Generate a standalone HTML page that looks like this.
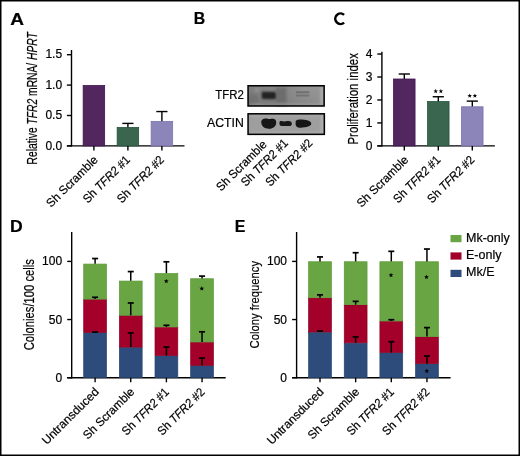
<!DOCTYPE html>
<html><head><meta charset="utf-8"><style>
html,body{margin:0;padding:0;background:#fff;}
svg{display:block;will-change:transform;}
text{font-family:"Liberation Sans", sans-serif;fill:#000;stroke:#000;stroke-width:0.2px;}
</style></head><body>
<svg width="520" height="456" viewBox="0 0 520 456">
<rect x="0.75" y="0.75" width="518.5" height="454.5" fill="#fff" stroke="#000" stroke-width="1.5"/>
<text transform="translate(10.2,24.5) scale(1.17,1)" font-size="16.3" font-weight="bold">A</text>
<text transform="translate(193.8,24.4) scale(0.97,1)" font-size="16.3" font-weight="bold">B</text>
<text transform="translate(10.1,231.5) scale(1.08,1)" font-size="16.3" font-weight="bold">D</text>
<text transform="translate(234.8,231.7) scale(0.98,1)" font-size="16.3" font-weight="bold">E</text>
<path d="M344.06,14.85 A5.25,5.25 0 1 0 344.06,22.65" fill="none" stroke="#000" stroke-width="2.6"/>
<line x1="71.50" y1="146.60" x2="71.50" y2="50.00" stroke="#000" stroke-width="1.4"/>
<line x1="66.90" y1="145.90" x2="184.50" y2="145.90" stroke="#000" stroke-width="1.4"/>
<line x1="66.90" y1="145.90" x2="71.50" y2="145.90" stroke="#000" stroke-width="1.4"/>
<text x="62.10" y="149.50" font-size="12" text-anchor="end" font-weight="normal" >0.0</text>
<line x1="66.90" y1="115.50" x2="71.50" y2="115.50" stroke="#000" stroke-width="1.4"/>
<text x="62.10" y="119.10" font-size="12" text-anchor="end" font-weight="normal" >0.5</text>
<line x1="66.90" y1="85.10" x2="71.50" y2="85.10" stroke="#000" stroke-width="1.4"/>
<text x="62.10" y="88.70" font-size="12" text-anchor="end" font-weight="normal" >1.0</text>
<line x1="66.90" y1="54.70" x2="71.50" y2="54.70" stroke="#000" stroke-width="1.4"/>
<text x="62.10" y="58.30" font-size="12" text-anchor="end" font-weight="normal" >1.5</text>
<rect x="83.15" y="85.50" width="21.50" height="60.40" fill="#52265f" stroke="#3e1450" stroke-width="0.8"/>
<line x1="93.90" y1="145.90" x2="93.90" y2="150.40" stroke="#000" stroke-width="1.4"/>
<line x1="127.90" y1="123.40" x2="127.90" y2="128.05" stroke="#000" stroke-width="1.4"/>
<line x1="122.30" y1="123.40" x2="133.50" y2="123.40" stroke="#000" stroke-width="1.4"/>
<rect x="117.15" y="127.45" width="21.50" height="18.45" fill="#3a6650" stroke="#24553b" stroke-width="0.8"/>
<line x1="127.90" y1="145.90" x2="127.90" y2="150.40" stroke="#000" stroke-width="1.4"/>
<line x1="161.90" y1="111.55" x2="161.90" y2="121.97" stroke="#000" stroke-width="1.4"/>
<line x1="156.30" y1="111.55" x2="167.50" y2="111.55" stroke="#000" stroke-width="1.4"/>
<rect x="151.15" y="121.37" width="21.50" height="24.53" fill="#8b85ba" stroke="#7a72b0" stroke-width="0.8"/>
<line x1="161.90" y1="145.90" x2="161.90" y2="150.40" stroke="#000" stroke-width="1.4"/>
<text transform="translate(37.20,98.30) rotate(-90)" font-size="15" text-anchor="middle" textLength="132.4" lengthAdjust="spacingAndGlyphs" >Relative <tspan font-style="italic">TFR2</tspan> mRNA/ <tspan font-style="italic">HPRT</tspan></text>
<text transform="translate(98.70,160.50) rotate(-45)" font-size="12" text-anchor="end" textLength="67.3" lengthAdjust="spacingAndGlyphs" >Sh Scramble</text>
<text transform="translate(130.80,160.50) rotate(-45)" font-size="12" text-anchor="end" textLength="61" lengthAdjust="spacingAndGlyphs" >Sh <tspan font-style="italic">TFR2</tspan> #1</text>
<text transform="translate(164.80,160.50) rotate(-45)" font-size="12" text-anchor="end" textLength="61" lengthAdjust="spacingAndGlyphs" >Sh <tspan font-style="italic">TFR2</tspan> #2</text>
<line x1="381.90" y1="146.60" x2="381.90" y2="51.80" stroke="#000" stroke-width="1.4"/>
<line x1="377.30" y1="145.90" x2="494.90" y2="145.90" stroke="#000" stroke-width="1.4"/>
<line x1="377.30" y1="145.90" x2="381.90" y2="145.90" stroke="#000" stroke-width="1.4"/>
<text x="372.50" y="149.50" font-size="12" text-anchor="end" font-weight="normal" >0</text>
<line x1="377.30" y1="122.93" x2="381.90" y2="122.93" stroke="#000" stroke-width="1.4"/>
<text x="372.50" y="126.53" font-size="12" text-anchor="end" font-weight="normal" >1</text>
<line x1="377.30" y1="99.96" x2="381.90" y2="99.96" stroke="#000" stroke-width="1.4"/>
<text x="372.50" y="103.56" font-size="12" text-anchor="end" font-weight="normal" >2</text>
<line x1="377.30" y1="76.99" x2="381.90" y2="76.99" stroke="#000" stroke-width="1.4"/>
<text x="372.50" y="80.59" font-size="12" text-anchor="end" font-weight="normal" >3</text>
<line x1="377.30" y1="54.02" x2="381.90" y2="54.02" stroke="#000" stroke-width="1.4"/>
<text x="372.50" y="57.62" font-size="12" text-anchor="end" font-weight="normal" >4</text>
<line x1="404.30" y1="74.00" x2="404.30" y2="79.60" stroke="#000" stroke-width="1.4"/>
<line x1="398.70" y1="74.00" x2="409.90" y2="74.00" stroke="#000" stroke-width="1.4"/>
<rect x="393.55" y="79.00" width="21.50" height="66.90" fill="#52265f" stroke="#3e1450" stroke-width="0.8"/>
<line x1="404.30" y1="145.90" x2="404.30" y2="150.40" stroke="#000" stroke-width="1.4"/>
<line x1="438.30" y1="96.74" x2="438.30" y2="102.11" stroke="#000" stroke-width="1.4"/>
<line x1="432.70" y1="96.74" x2="443.90" y2="96.74" stroke="#000" stroke-width="1.4"/>
<rect x="427.55" y="101.51" width="21.50" height="44.39" fill="#3a6650" stroke="#24553b" stroke-width="0.8"/>
<line x1="438.30" y1="145.90" x2="438.30" y2="150.40" stroke="#000" stroke-width="1.4"/>
<line x1="472.30" y1="101.11" x2="472.30" y2="107.39" stroke="#000" stroke-width="1.4"/>
<line x1="466.70" y1="101.11" x2="477.90" y2="101.11" stroke="#000" stroke-width="1.4"/>
<rect x="461.55" y="106.79" width="21.50" height="39.11" fill="#8b85ba" stroke="#7a72b0" stroke-width="0.8"/>
<line x1="472.30" y1="145.90" x2="472.30" y2="150.40" stroke="#000" stroke-width="1.4"/>
<text transform="translate(357.60,98.80) rotate(-90)" font-size="15" text-anchor="middle" textLength="91.5" lengthAdjust="spacingAndGlyphs" >Proliferation index</text>
<text transform="translate(409.10,160.50) rotate(-45)" font-size="12" text-anchor="end" textLength="67.3" lengthAdjust="spacingAndGlyphs" >Sh Scramble</text>
<text transform="translate(441.20,160.50) rotate(-45)" font-size="12" text-anchor="end" textLength="61" lengthAdjust="spacingAndGlyphs" >Sh <tspan font-style="italic">TFR2</tspan> #1</text>
<text transform="translate(475.20,160.50) rotate(-45)" font-size="12" text-anchor="end" textLength="61" lengthAdjust="spacingAndGlyphs" >Sh <tspan font-style="italic">TFR2</tspan> #2</text>
<polygon points="435.70,88.80 436.29,90.38 437.98,90.46 436.66,91.51 437.11,93.14 435.70,92.21 434.29,93.14 434.74,91.51 433.42,90.46 435.11,90.38" fill="#000"/>
<polygon points="440.90,88.80 441.49,90.38 443.18,90.46 441.86,91.51 442.31,93.14 440.90,92.21 439.49,93.14 439.94,91.51 438.62,90.46 440.31,90.38" fill="#000"/>
<polygon points="469.70,93.40 470.29,94.98 471.98,95.06 470.66,96.11 471.11,97.74 469.70,96.81 468.29,97.74 468.74,96.11 467.42,95.06 469.11,94.98" fill="#000"/>
<polygon points="474.90,93.40 475.49,94.98 477.18,95.06 475.86,96.11 476.31,97.74 474.90,96.81 473.49,97.74 473.94,96.11 472.62,95.06 474.31,94.98" fill="#000"/>
<defs>
<linearGradient id="gT" x1="0" y1="0" x2="1" y2="0">
 <stop offset="0" stop-color="#7e7e7e"/><stop offset="0.3" stop-color="#858585"/><stop offset="0.5" stop-color="#888"/><stop offset="0.7" stop-color="#929292"/><stop offset="1" stop-color="#989898"/>
</linearGradient>
<linearGradient id="gTv" x1="0" y1="0" x2="0" y2="1">
 <stop offset="0" stop-color="#000" stop-opacity="0"/><stop offset="0.6" stop-color="#000" stop-opacity="0.04"/><stop offset="1" stop-color="#000" stop-opacity="0.1"/>
</linearGradient>
<filter id="bl1" x="-50%" y="-50%" width="200%" height="200%"><feGaussianBlur stdDeviation="1.1"/></filter>
<filter id="bl3" x="-50%" y="-50%" width="200%" height="200%"><feGaussianBlur stdDeviation="1.0"/></filter>
<filter id="bl4" x="-50%" y="-50%" width="200%" height="200%"><feGaussianBlur stdDeviation="0.65"/></filter>
<filter id="bl2" x="-50%" y="-50%" width="200%" height="200%"><feGaussianBlur stdDeviation="0.45"/></filter>
</defs>
<rect x="248.05" y="85.75" width="76.1" height="20.25" fill="url(#gT)"/>
<rect x="248.05" y="85.75" width="76.1" height="20.25" fill="url(#gTv)"/>
<g filter="url(#bl1)">
<rect x="275.5" y="87" width="11" height="19" fill="#6a6a6a" opacity="0.55"/>
<rect x="320.5" y="87" width="2.6" height="18.5" fill="#b4b4b4" opacity="0.8"/>
<rect x="250" y="103.6" width="72" height="1.6" fill="#b0b0b0" opacity="0.6"/>
</g>
<g filter="url(#bl3)">
<path d="M261.7,91.8 L273.6,91.8 C275.4,91.8 276.0,92.9 276.0,94.5 L275.9,97.7 C275.9,99.1 275.0,99.4 273.5,99.3 L263.4,98.9 C262.1,98.8 261.7,97.9 261.7,96.5 Z" fill="#222"/>
<rect x="276.5" y="89" width="9" height="13" fill="#5e5e5e" opacity="0.4"/>
<ellipse cx="253" cy="99" rx="5" ry="5" fill="#606060" opacity="0.35"/>
<ellipse cx="257" cy="90" rx="3" ry="2.5" fill="#a0a0a0" opacity="0.4"/>
<ellipse cx="270" cy="103" rx="8" ry="2" fill="#6a6a6a" opacity="0.25"/>
</g>
<g filter="url(#bl4)">
<rect x="295.8" y="91.2" width="13.7" height="2.0" rx="0.8" fill="#555" opacity="0.55"/>
<rect x="295.8" y="94.4" width="13.7" height="2.0" rx="0.8" fill="#5a5a5a" opacity="0.5"/>
</g>
<rect x="248.05" y="85.75" width="76.1" height="20.25" fill="none" stroke="#000" stroke-width="1.5"/>
<rect x="248.05" y="113.8" width="76.3" height="20.55" fill="#9e9e9e"/>
<g filter="url(#bl1)">
<rect x="320.8" y="115" width="2.6" height="18.5" fill="#b6b6b6" opacity="0.8"/>
<rect x="250" y="115" width="72" height="1.5" fill="#b0b0b0" opacity="0.6"/>
<rect x="250" y="131.8" width="72" height="1.6" fill="#b2b2b2" opacity="0.7"/>
</g>
<g filter="url(#bl2)">
<path d="M261.3,122.6 C261.1,119.8 263.4,118.6 265.8,118.6 C267.3,118.6 268.0,119.1 269.0,119.1 C270.3,119.1 271.4,118.6 273.2,118.7 C275.4,118.9 276.3,120.6 276.2,122.8 C276.0,126.3 273.4,128.8 269.0,128.8 C264.4,128.8 261.5,126.2 261.3,122.6 Z" fill="#131313"/>
<path d="M279.4,122.8 C279.4,121.5 280.2,121.0 281.4,121.1 C282.8,121.2 283.5,121.6 285.0,121.4 C286.5,121.2 287.5,121.0 289.5,121.2 C291.2,121.3 291.8,122.2 291.8,123.5 C291.8,125.3 290.9,126.1 289.0,126.1 L281.8,126.1 C280.0,126.1 279.4,125.0 279.4,122.8 Z" fill="#131313"/>
<path d="M295.6,122.3 C295.5,120.3 297.0,119.5 299.5,119.5 C305.8,119.5 311.3,120.9 311.3,123.6 C311.3,126.3 306.3,127.6 300.5,127.8 C297.3,127.9 295.7,126.6 295.6,124.6 Z" fill="#131313"/>
</g>
<rect x="248.05" y="113.8" width="76.3" height="20.55" fill="none" stroke="#000" stroke-width="1.5"/>
<text x="243.80" y="99.30" font-size="13.4" text-anchor="end" font-weight="normal" textLength="28.6" lengthAdjust="spacingAndGlyphs" >TFR2</text>
<text x="243.80" y="127.30" font-size="13.2" text-anchor="end" font-weight="normal" textLength="36.8" lengthAdjust="spacingAndGlyphs" >ACTIN</text>
<text transform="translate(267.60,145.20) rotate(-45)" font-size="12" text-anchor="end" textLength="65.8" lengthAdjust="spacingAndGlyphs" >Sh Scramble</text>
<text transform="translate(288.80,143.90) rotate(-45)" font-size="12" text-anchor="end" textLength="61" lengthAdjust="spacingAndGlyphs" >Sh <tspan font-style="italic">TFR2</tspan> #1</text>
<text transform="translate(313.30,143.90) rotate(-45)" font-size="12" text-anchor="end" textLength="61" lengthAdjust="spacingAndGlyphs" >Sh <tspan font-style="italic">TFR2</tspan> #2</text>
<line x1="71.70" y1="378.40" x2="71.70" y2="232.00" stroke="#000" stroke-width="1.4"/>
<line x1="67.20" y1="377.70" x2="225.70" y2="377.70" stroke="#000" stroke-width="1.4"/>
<line x1="67.20" y1="377.70" x2="71.70" y2="377.70" stroke="#000" stroke-width="1.4"/>
<text x="62.10" y="381.70" font-size="12" text-anchor="end" font-weight="normal" >0</text>
<line x1="67.20" y1="319.55" x2="71.70" y2="319.55" stroke="#000" stroke-width="1.4"/>
<text x="62.10" y="323.55" font-size="12" text-anchor="end" font-weight="normal" >50</text>
<line x1="67.20" y1="261.40" x2="71.70" y2="261.40" stroke="#000" stroke-width="1.4"/>
<text x="62.10" y="265.40" font-size="12" text-anchor="end" font-weight="normal" >100</text>
<rect x="83.70" y="332.69" width="22.80" height="45.01" fill="#2d4c7c" stroke="#26446f" stroke-width="0.7"/>
<rect x="83.70" y="299.43" width="22.80" height="32.91" fill="#a3002a" stroke="#900024" stroke-width="0.7"/>
<rect x="83.70" y="264.08" width="22.80" height="35.01" fill="#6aa544" stroke="#5a9a36" stroke-width="0.7"/>
<line x1="95.10" y1="332.05" x2="95.10" y2="332.34" stroke="#000" stroke-width="1.5"/>
<line x1="92.10" y1="332.05" x2="98.10" y2="332.05" stroke="#000" stroke-width="1.7"/>
<line x1="95.10" y1="297.27" x2="95.10" y2="299.08" stroke="#000" stroke-width="1.5"/>
<line x1="92.10" y1="297.27" x2="98.10" y2="297.27" stroke="#000" stroke-width="1.7"/>
<line x1="95.10" y1="258.54" x2="95.10" y2="263.73" stroke="#000" stroke-width="1.5"/>
<line x1="92.10" y1="258.54" x2="98.10" y2="258.54" stroke="#000" stroke-width="1.7"/>
<line x1="95.10" y1="377.70" x2="95.10" y2="382.30" stroke="#000" stroke-width="1.4"/>
<rect x="119.35" y="347.46" width="22.80" height="30.24" fill="#2d4c7c" stroke="#26446f" stroke-width="0.7"/>
<rect x="119.35" y="315.60" width="22.80" height="31.52" fill="#a3002a" stroke="#900024" stroke-width="0.7"/>
<rect x="119.35" y="281.06" width="22.80" height="34.19" fill="#6aa544" stroke="#5a9a36" stroke-width="0.7"/>
<line x1="130.75" y1="332.98" x2="130.75" y2="347.11" stroke="#000" stroke-width="1.5"/>
<line x1="127.75" y1="332.98" x2="133.75" y2="332.98" stroke="#000" stroke-width="1.7"/>
<line x1="130.75" y1="302.97" x2="130.75" y2="315.25" stroke="#000" stroke-width="1.5"/>
<line x1="127.75" y1="302.97" x2="133.75" y2="302.97" stroke="#000" stroke-width="1.7"/>
<line x1="130.75" y1="271.57" x2="130.75" y2="280.71" stroke="#000" stroke-width="1.5"/>
<line x1="127.75" y1="271.57" x2="133.75" y2="271.57" stroke="#000" stroke-width="1.7"/>
<line x1="130.75" y1="377.70" x2="130.75" y2="382.30" stroke="#000" stroke-width="1.4"/>
<rect x="155.00" y="355.84" width="22.80" height="21.86" fill="#2d4c7c" stroke="#26446f" stroke-width="0.7"/>
<rect x="155.00" y="327.23" width="22.80" height="28.26" fill="#a3002a" stroke="#900024" stroke-width="0.7"/>
<rect x="155.00" y="273.50" width="22.80" height="53.38" fill="#6aa544" stroke="#5a9a36" stroke-width="0.7"/>
<line x1="166.40" y1="347.05" x2="166.40" y2="355.49" stroke="#000" stroke-width="1.5"/>
<line x1="163.40" y1="347.05" x2="169.40" y2="347.05" stroke="#000" stroke-width="1.7"/>
<line x1="166.40" y1="325.30" x2="166.40" y2="326.88" stroke="#000" stroke-width="1.5"/>
<line x1="163.40" y1="325.30" x2="169.40" y2="325.30" stroke="#000" stroke-width="1.7"/>
<line x1="166.40" y1="261.80" x2="166.40" y2="273.15" stroke="#000" stroke-width="1.5"/>
<line x1="163.40" y1="261.80" x2="169.40" y2="261.80" stroke="#000" stroke-width="1.7"/>
<line x1="166.40" y1="377.70" x2="166.40" y2="382.30" stroke="#000" stroke-width="1.4"/>
<rect x="190.65" y="365.72" width="22.80" height="11.98" fill="#2d4c7c" stroke="#26446f" stroke-width="0.7"/>
<rect x="190.65" y="342.23" width="22.80" height="23.14" fill="#a3002a" stroke="#900024" stroke-width="0.7"/>
<rect x="190.65" y="278.73" width="22.80" height="63.15" fill="#6aa544" stroke="#5a9a36" stroke-width="0.7"/>
<line x1="202.05" y1="358.10" x2="202.05" y2="365.37" stroke="#000" stroke-width="1.5"/>
<line x1="199.05" y1="358.10" x2="205.05" y2="358.10" stroke="#000" stroke-width="1.7"/>
<line x1="202.05" y1="331.81" x2="202.05" y2="341.88" stroke="#000" stroke-width="1.5"/>
<line x1="199.05" y1="331.81" x2="205.05" y2="331.81" stroke="#000" stroke-width="1.7"/>
<line x1="202.05" y1="276.10" x2="202.05" y2="278.38" stroke="#000" stroke-width="1.5"/>
<line x1="199.05" y1="276.10" x2="205.05" y2="276.10" stroke="#000" stroke-width="1.7"/>
<line x1="202.05" y1="377.70" x2="202.05" y2="382.30" stroke="#000" stroke-width="1.4"/>
<text transform="translate(34.10,304.70) rotate(-90)" font-size="14.6" text-anchor="middle" textLength="91.2" lengthAdjust="spacingAndGlyphs" >Colonies/100 cells</text>
<text transform="translate(99.60,392.50) rotate(-45)" font-size="12" text-anchor="end" >Untransduced</text>
<text transform="translate(135.25,392.50) rotate(-45)" font-size="12" text-anchor="end" textLength="67.3" lengthAdjust="spacingAndGlyphs" >Sh Scramble</text>
<text transform="translate(169.70,392.80) rotate(-45)" font-size="12" text-anchor="end" textLength="61" lengthAdjust="spacingAndGlyphs" >Sh <tspan font-style="italic">TFR2</tspan> #1</text>
<text transform="translate(205.35,392.80) rotate(-45)" font-size="12" text-anchor="end" textLength="61" lengthAdjust="spacingAndGlyphs" >Sh <tspan font-style="italic">TFR2</tspan> #2</text>
<polygon points="166.30,278.70 166.92,280.35 168.68,280.43 167.30,281.52 167.77,283.22 166.30,282.25 164.83,283.22 165.30,281.52 163.92,280.43 165.68,280.35" fill="#000"/>
<polygon points="201.80,286.10 202.42,287.75 204.18,287.83 202.80,288.92 203.27,290.62 201.80,289.65 200.33,290.62 200.80,288.92 199.42,287.83 201.18,287.75" fill="#000"/>
<line x1="296.60" y1="378.40" x2="296.60" y2="232.00" stroke="#000" stroke-width="1.4"/>
<line x1="292.10" y1="377.70" x2="450.60" y2="377.70" stroke="#000" stroke-width="1.4"/>
<line x1="292.10" y1="377.70" x2="296.60" y2="377.70" stroke="#000" stroke-width="1.4"/>
<text x="287.00" y="381.70" font-size="12" text-anchor="end" font-weight="normal" >0</text>
<line x1="292.10" y1="319.55" x2="296.60" y2="319.55" stroke="#000" stroke-width="1.4"/>
<text x="287.00" y="323.55" font-size="12" text-anchor="end" font-weight="normal" >50</text>
<line x1="292.10" y1="261.40" x2="296.60" y2="261.40" stroke="#000" stroke-width="1.4"/>
<text x="287.00" y="265.40" font-size="12" text-anchor="end" font-weight="normal" >100</text>
<rect x="308.60" y="332.34" width="22.80" height="45.36" fill="#2d4c7c" stroke="#26446f" stroke-width="0.7"/>
<rect x="308.60" y="298.04" width="22.80" height="33.96" fill="#a3002a" stroke="#900024" stroke-width="0.7"/>
<rect x="308.60" y="261.75" width="22.80" height="35.94" fill="#6aa544" stroke="#5a9a36" stroke-width="0.7"/>
<line x1="320.00" y1="331.00" x2="320.00" y2="331.99" stroke="#000" stroke-width="1.5"/>
<line x1="317.00" y1="331.00" x2="323.00" y2="331.00" stroke="#000" stroke-width="1.7"/>
<line x1="320.00" y1="294.83" x2="320.00" y2="297.69" stroke="#000" stroke-width="1.5"/>
<line x1="317.00" y1="294.83" x2="323.00" y2="294.83" stroke="#000" stroke-width="1.7"/>
<line x1="320.00" y1="256.92" x2="320.00" y2="261.40" stroke="#000" stroke-width="1.5"/>
<line x1="317.00" y1="256.92" x2="323.00" y2="256.92" stroke="#000" stroke-width="1.7"/>
<line x1="320.00" y1="377.70" x2="320.00" y2="382.30" stroke="#000" stroke-width="1.4"/>
<rect x="344.25" y="343.16" width="22.80" height="34.54" fill="#2d4c7c" stroke="#26446f" stroke-width="0.7"/>
<rect x="344.25" y="305.01" width="22.80" height="37.80" fill="#a3002a" stroke="#900024" stroke-width="0.7"/>
<rect x="344.25" y="261.75" width="22.80" height="42.91" fill="#6aa544" stroke="#5a9a36" stroke-width="0.7"/>
<line x1="355.65" y1="336.93" x2="355.65" y2="342.81" stroke="#000" stroke-width="1.5"/>
<line x1="352.65" y1="336.93" x2="358.65" y2="336.93" stroke="#000" stroke-width="1.7"/>
<line x1="355.65" y1="301.34" x2="355.65" y2="304.66" stroke="#000" stroke-width="1.5"/>
<line x1="352.65" y1="301.34" x2="358.65" y2="301.34" stroke="#000" stroke-width="1.7"/>
<line x1="355.65" y1="252.73" x2="355.65" y2="261.40" stroke="#000" stroke-width="1.5"/>
<line x1="352.65" y1="252.73" x2="358.65" y2="252.73" stroke="#000" stroke-width="1.7"/>
<line x1="355.65" y1="377.70" x2="355.65" y2="382.30" stroke="#000" stroke-width="1.4"/>
<rect x="379.90" y="352.81" width="22.80" height="24.89" fill="#2d4c7c" stroke="#26446f" stroke-width="0.7"/>
<rect x="379.90" y="321.30" width="22.80" height="31.17" fill="#a3002a" stroke="#900024" stroke-width="0.7"/>
<rect x="379.90" y="261.75" width="22.80" height="59.20" fill="#6aa544" stroke="#5a9a36" stroke-width="0.7"/>
<line x1="391.30" y1="341.70" x2="391.30" y2="352.46" stroke="#000" stroke-width="1.5"/>
<line x1="388.30" y1="341.70" x2="394.30" y2="341.70" stroke="#000" stroke-width="1.7"/>
<line x1="391.30" y1="319.72" x2="391.30" y2="320.95" stroke="#000" stroke-width="1.5"/>
<line x1="388.30" y1="319.72" x2="394.30" y2="319.72" stroke="#000" stroke-width="1.7"/>
<line x1="391.30" y1="251.33" x2="391.30" y2="261.40" stroke="#000" stroke-width="1.5"/>
<line x1="388.30" y1="251.33" x2="394.30" y2="251.33" stroke="#000" stroke-width="1.7"/>
<line x1="391.30" y1="377.70" x2="391.30" y2="382.30" stroke="#000" stroke-width="1.4"/>
<rect x="415.55" y="363.98" width="22.80" height="13.72" fill="#2d4c7c" stroke="#26446f" stroke-width="0.7"/>
<rect x="415.55" y="336.88" width="22.80" height="26.75" fill="#a3002a" stroke="#900024" stroke-width="0.7"/>
<rect x="415.55" y="261.75" width="22.80" height="74.78" fill="#6aa544" stroke="#5a9a36" stroke-width="0.7"/>
<line x1="426.95" y1="356.00" x2="426.95" y2="363.63" stroke="#000" stroke-width="1.5"/>
<line x1="423.95" y1="356.00" x2="429.95" y2="356.00" stroke="#000" stroke-width="1.7"/>
<line x1="426.95" y1="327.63" x2="426.95" y2="336.53" stroke="#000" stroke-width="1.5"/>
<line x1="423.95" y1="327.63" x2="429.95" y2="327.63" stroke="#000" stroke-width="1.7"/>
<line x1="426.95" y1="249.01" x2="426.95" y2="261.40" stroke="#000" stroke-width="1.5"/>
<line x1="423.95" y1="249.01" x2="429.95" y2="249.01" stroke="#000" stroke-width="1.7"/>
<line x1="426.95" y1="377.70" x2="426.95" y2="382.30" stroke="#000" stroke-width="1.4"/>
<text transform="translate(259.20,304.70) rotate(-90)" font-size="13.6" text-anchor="middle" textLength="87.5" lengthAdjust="spacingAndGlyphs" >Colony frequency</text>
<text transform="translate(324.50,392.50) rotate(-45)" font-size="12" text-anchor="end" >Untransduced</text>
<text transform="translate(360.15,392.50) rotate(-45)" font-size="12" text-anchor="end" textLength="67.3" lengthAdjust="spacingAndGlyphs" >Sh Scramble</text>
<text transform="translate(394.60,392.80) rotate(-45)" font-size="12" text-anchor="end" textLength="61" lengthAdjust="spacingAndGlyphs" >Sh <tspan font-style="italic">TFR2</tspan> #1</text>
<text transform="translate(430.25,392.80) rotate(-45)" font-size="12" text-anchor="end" textLength="61" lengthAdjust="spacingAndGlyphs" >Sh <tspan font-style="italic">TFR2</tspan> #2</text>
<polygon points="391.00,272.70 391.62,274.35 393.38,274.43 392.00,275.52 392.47,277.22 391.00,276.25 389.53,277.22 390.00,275.52 388.62,274.43 390.38,274.35" fill="#000"/>
<polygon points="426.50,274.60 427.12,276.25 428.88,276.33 427.50,277.42 427.97,279.12 426.50,278.15 425.03,279.12 425.50,277.42 424.12,276.33 425.88,276.25" fill="#000"/>
<polygon points="426.80,368.60 427.42,370.25 429.18,370.33 427.80,371.42 428.27,373.12 426.80,372.15 425.33,373.12 425.80,371.42 424.42,370.33 426.18,370.25" fill="#000"/>
<rect x="450.50" y="235.00" width="11.00" height="7.20" fill="#6aa544" />
<text x="466.00" y="241.60" font-size="12.5" text-anchor="start" font-weight="normal" >Mk-only</text>
<rect x="450.50" y="252.40" width="11.00" height="7.20" fill="#a3002a" />
<text x="466.00" y="259.00" font-size="12.5" text-anchor="start" font-weight="normal" >E-only</text>
<rect x="450.50" y="269.80" width="11.00" height="7.20" fill="#2d4c7c" />
<text x="466.00" y="276.40" font-size="12.5" text-anchor="start" font-weight="normal" >Mk/E</text>
</svg>
</body></html>
